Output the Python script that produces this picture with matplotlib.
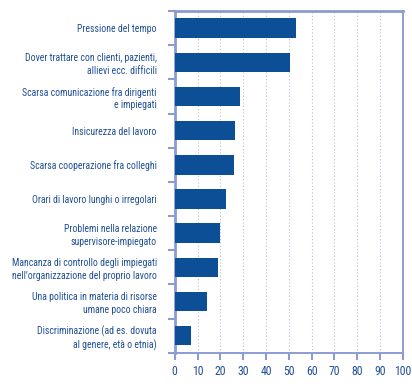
import numpy as np
import matplotlib
matplotlib.use("Agg")
import matplotlib.pyplot as plt
from matplotlib.ticker import MultipleLocator, NullFormatter

# Fattori di stress lavoro-correlato (%)
categories = [
    "Pressione del tempo",
    "Dover trattare con clienti, pazienti,\nallievi ecc. difficili",
    "Scarsa comunicazione fra dirigenti\ne impiegati",
    "Insicurezza del lavoro",
    "Scarsa cooperazione fra colleghi",
    "Orari di lavoro lunghi o irregolari",
    "Problemi nella relazione\nsupervisore-impiegato",
    "Mancanza di controllo degli impiegati\nnell\u2019organizzazione del proprio lavoro",
    "Una politica in materia di risorse\numane poco chiara",
    "Discriminazione (ad es. dovuta\nal genere, et\u00e0 o etnia)",
]
values = [53, 50.5, 28.5, 26.5, 26, 22.5, 20, 19, 14, 7]
x_ticks = list(range(0, 101, 10))

BAR_COLOR = "#0C4F97"
TEXT_COLOR = "#1F4E96"
SPINE_COLOR = "#8C9CD2"
GRID_COLOR = "#B4BEE0"

plt.rcParams["font.family"] = ["Roboto Condensed", "Open Sans Condensed",
                               "Noto Sans Condensed", "DejaVu Sans Condensed",
                               "Liberation Sans Narrow", "DejaVu Sans"]
plt.rcParams["font.stretch"] = "condensed"

fig = plt.figure(figsize=(4.12, 3.87), dpi=100)
ax = fig.add_axes([0.424, 0.0886, 0.554, 0.883])

y = np.arange(len(categories))
ax.barh(y, values, height=0.57, color=BAR_COLOR, zorder=3)

ax.set_xlim(0, 100)
ax.set_ylim(len(categories) - 0.5, -0.5)
ax.set_xticks(x_ticks)
ax.set_xticklabels([str(t) for t in x_ticks], fontsize=8.5, color=TEXT_COLOR)
ax.xaxis.grid(True, linestyle=(0, (1, 2)), color=GRID_COLOR, linewidth=0.8, zorder=0)

# category labels, ticks between the bars
ax.set_yticks(y)
ax.set_yticklabels(categories, fontsize=7.0, color=TEXT_COLOR, linespacing=1.3)
ax.yaxis.set_minor_locator(MultipleLocator(1, offset=0.5))
ax.yaxis.set_minor_formatter(NullFormatter())
ax.tick_params(axis="y", which="major", length=0, pad=13)
ax.tick_params(axis="y", which="minor", length=5, width=1.5, color=SPINE_COLOR)
ax.tick_params(axis="x", length=5, width=1.5, color=SPINE_COLOR, pad=4)

for side in ["left", "top"]:
    ax.spines[side].set_linewidth(2)
for side in ["right", "bottom"]:
    ax.spines[side].set_linewidth(1.4)
for s in ax.spines.values():
    s.set_color(SPINE_COLOR)

fig.savefig("out.png", dpi=100)
